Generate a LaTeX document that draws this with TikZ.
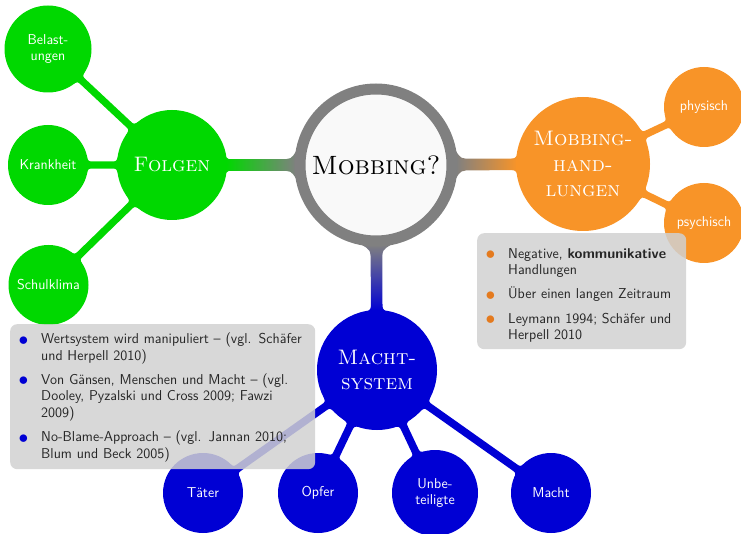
\documentclass[tikz,border=0pt]{standalone}
\usetikzlibrary{calc,backgrounds}
\definecolor{cgreen}{RGB}{0,216,0}
\definecolor{corange}{RGB}{248,148,40}
\definecolor{cblue}{RGB}{0,0,212}
\definecolor{cgray}{RGB}{128,128,128}
\definecolor{bulor}{RGB}{228,122,30}
\newcommand\mybul[1]{\makebox[22.5pt][l]{\raisebox{-1.4pt}{\scalebox{1.35}{\textcolor{#1}{$\bullet$}}}}}
\newcommand\obul{\mybul{bulor}}
\newcommand\bbul{\mybul{cblue}}
\newcommand\myind{\hspace*{22.5pt}}
\def\cbkA{1}\def\cbkB{1}
% #1 fill options, #2 start node, #3 end node, #4 start radius, #5 end radius,
% #6 half bar width, #7 start flare, #8 end flare
\newcommand\conbar[8]{%
  \pgfmathsetmacro\cbAx{sqrt(#4*#4-#7*#7)-0.5}%
  \pgfmathsetmacro\cbBx{sqrt(#5*#5-#8*#8)-0.5}%
  \pgfmathsetmacro\cbAc{\cbAx+0.3*\cbkA*#7}%
  \pgfmathsetmacro\cbAq{\cbAx+\cbkA*#7}%
  \pgfmathsetmacro\cbBc{\cbBx+0.3*\cbkB*#8}%
  \pgfmathsetmacro\cbBq{\cbBx+\cbkB*#8}%
  \path[#1] let \p1=(#2.center), \p2=(#3.center), \n1={atan2(\y2-\y1,\x2-\x1)} in
    ($(\p1)+({\n1}:\cbAx pt)+({\n1+90}:#7pt)$)
    .. controls ($(\p1)+({\n1}:\cbAc pt)+({\n1+90}:#6pt)$) ..
    ($(\p1)+({\n1}:\cbAq pt)+({\n1+90}:#6pt)$)
    -- ($(\p2)+({\n1+180}:\cbBq pt)+({\n1+90}:#6pt)$)
    .. controls ($(\p2)+({\n1+180}:\cbBc pt)+({\n1+90}:#6pt)$) ..
    ($(\p2)+({\n1+180}:\cbBx pt)+({\n1+90}:#8pt)$)
    -- ($(\p2)+({\n1+180}:\cbBx pt)+({\n1-90}:#8pt)$)
    .. controls ($(\p2)+({\n1+180}:\cbBc pt)+({\n1-90}:#6pt)$) ..
    ($(\p2)+({\n1+180}:\cbBq pt)+({\n1-90}:#6pt)$)
    -- ($(\p1)+({\n1}:\cbAq pt)+({\n1-90}:#6pt)$)
    .. controls ($(\p1)+({\n1}:\cbAc pt)+({\n1-90}:#6pt)$) ..
    ($(\p1)+({\n1}:\cbAx pt)+({\n1-90}:#7pt)$) -- cycle;}
\begin{document}
\begin{tikzpicture}[x=1pt,y=-1pt,
  rootc/.style={circle, draw=cgray, line width=11pt, fill=gray!5, minimum size=152pt,
    inner sep=0pt, text=black, align=center, font=\fontsize{26.5}{30}\selectfont\scshape},
  lvone/.style={circle, fill=#1, inner sep=0pt, text=white, align=center,
    font=\fontsize{21}{25.5}\selectfont\scshape},
  lvtwo/.style={circle, fill=#1, inner sep=0pt, minimum size=80pt, text=white, align=center,
    font=\fontsize{14.3}{16}\selectfont\sffamily},
  notebox/.style={rounded corners=7pt, fill=black!18, fill opacity=0.85, text opacity=1,
    anchor=north west, align=left, inner xsep=8.5pt, text=black!85,
    font=\fontsize{14.3}{16.4}\selectfont\sffamily}
]
\useasboundingbox (0,0) rectangle (741,534);
% root and level-1 concepts
\node[rootc] (root) at (376,165) {Mobbing?};
\node[lvone=cgreen, minimum size=110pt] (folgen) at (172,165) {Folgen};
\node[lvone=corange, minimum size=134pt] (handl) at (583,164) {Mobbing-\\hand-\\lungen};
\node[lvone=cblue, minimum size=120pt] (macht) at (377,370) {Macht-\\system};
% level-2 concepts
\node[lvtwo=cgreen, minimum size=87pt] (belast) at (48,49) {Belast-\\ungen};
\node[lvtwo=cgreen] (krank) at (48,165) {Krankheit};
\node[lvtwo=cgreen] (schul) at (48.5,285) {Schulklima};
\node[lvtwo=corange] (phys) at (704,107) {physisch};
\node[lvtwo=corange] (psych) at (704,223) {psychisch};
\node[lvtwo=cblue] (taeter) at (203,493) {Täter};
\node[lvtwo=cblue] (opfer) at (318,493) {Opfer};
\node[lvtwo=cblue, minimum size=86pt] (unbet) at (435,493) {Unbe-\\teiligte};
\node[lvtwo=cblue] (machtc) at (551,493) {Macht};
% connection bars
\begin{pgfonlayer}{background}
\def\cbkA{1.2}\def\cbkB{0.9}
\conbar{left color=cgreen, right color=cgray}{root}{folgen}{81.5}{55}{5.8}{14}{8}
\conbar{left color=cgray, right color=corange}{root}{handl}{81.5}{67}{5.8}{14}{9}
\conbar{top color=cgray, bottom color=cblue}{root}{macht}{81.5}{60}{5.8}{15}{9}
\def\cbkA{0.7}\def\cbkB{0.7}
\conbar{fill=cgreen}{folgen}{belast}{55}{43.5}{3.6}{9}{9}
\conbar{fill=cgreen}{folgen}{krank}{55}{40}{3.6}{9}{9}
\conbar{fill=cgreen}{folgen}{schul}{55}{40}{3.6}{9}{9}
\conbar{fill=corange}{handl}{phys}{67}{40}{3.6}{9}{9}
\conbar{fill=corange}{handl}{psych}{67}{40}{3.6}{9}{9}
\conbar{fill=cblue}{macht}{taeter}{60}{40}{3.8}{9}{9}
\conbar{fill=cblue}{macht}{opfer}{60}{40}{3.8}{9}{9}
\conbar{fill=cblue}{macht}{unbet}{60}{43}{3.8}{9}{9}
\conbar{fill=cblue}{macht}{machtc}{60}{40}{3.8}{9}{9}
\end{pgfonlayer}
% notes
\node[notebox, minimum width=209pt, minimum height=116pt, text width=192pt] (n1) at (477,233) {%
\rule{0pt}{18pt}\obul Negative, \textbf{kommunikative}\\
\myind Handlungen\\[8pt]
\obul Über einen langen Zeitraum\\[8pt]
\obul Leymann 1994; Schäfer und\\
\myind Herpell 2010};
\node[notebox, minimum width=305pt, minimum height=145pt, text width=288pt] (n2) at (10,324) {%
\rule{0pt}{12pt}\bbul Wertsystem wird manipuliert – (vgl. Schäfer\\
\myind und Herpell 2010)\\[8pt]
\bbul Von Gänsen, Menschen und Macht – (vgl.\\
\myind Dooley, Pyzalski und Cross 2009; Fawzi\\
\myind 2009)\\[8pt]
\bbul No-Blame-Approach – (vgl. Jannan 2010;\\
\myind Blum und Beck 2005)};
\end{tikzpicture}
\end{document}
